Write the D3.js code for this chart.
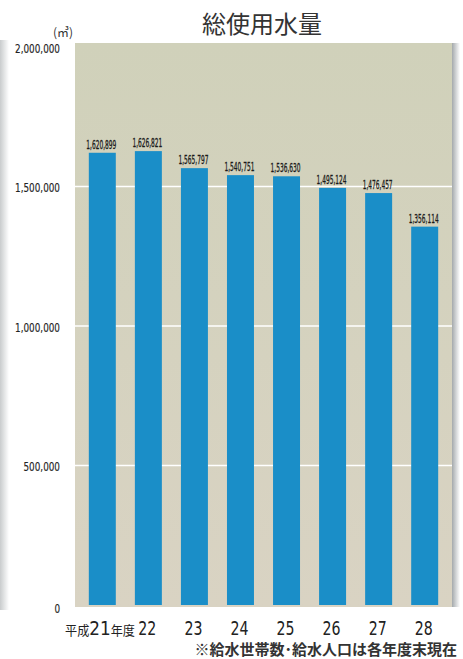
<!DOCTYPE html>
<html><head><meta charset="utf-8">
<script src="https://cdn.jsdelivr.net/npm/d3@7"></script>
<style>html,body{margin:0;padding:0;background:#fff;}svg{display:block;}</style>
</head><body>
<script>
const categories = ["21","22","23","24","25","26","27","28"];
const values = [1620899,1626821,1565797,1540751,1536630,1495124,1476457,1356114];
const valueLabels = ["1,620,899","1,626,821","1,565,797","1,540,751","1,536,630","1,495,124","1,476,457","1,356,114"];
const yTicks = [0,500000,1000000,1500000,2000000];
const gridTicks = [500000,1000000,1500000];
const title = "総使用水量";
const unit = "(㎥)";
const note = "※給水世帯数･給水人口は各年度末現在";

const W=463,H=659;
const svg=d3.select("body").append("svg").attr("width",W).attr("height",H);
const defs=svg.append("defs");
const bg=defs.append("linearGradient").attr("id","bg").attr("x1",0).attr("y1",0).attr("x2",0).attr("y2",1);
bg.append("stop").attr("offset","0%").attr("stop-color","#d0d1ba");
bg.append("stop").attr("offset","100%").attr("stop-color","#d9d3c3");
const sh=defs.append("linearGradient").attr("id","sh").attr("x1",0).attr("y1",0).attr("x2",1).attr("y2",0);
sh.append("stop").attr("offset","0%").attr("stop-color","#a4a9ac");
sh.append("stop").attr("offset","100%").attr("stop-color","#ffffff");
const lsh=defs.append("linearGradient").attr("id","lsh").attr("x1",0).attr("y1",0).attr("x2",1).attr("y2",0);
lsh.append("stop").attr("offset","0%").attr("stop-color","#c9cccd");
lsh.append("stop").attr("offset","100%").attr("stop-color","#ffffff");

const x=d3.scaleBand().domain(categories).range([75,452]).paddingInner(0.414).paddingOuter(0.3);
const y=d3.scaleLinear().domain([0,2000000]).range([605,47]);

svg.append("rect").attr("x",0).attr("y",40).attr("width",9).attr("height",570).attr("fill","url(#lsh)");
svg.append("rect").attr("x",75).attr("y",43).attr("width",377).attr("height",564).attr("fill","url(#bg)");
svg.append("rect").attr("x",452).attr("y",43).attr("width",8).attr("height",564).attr("fill","url(#sh)");

svg.append("g").selectAll("line").data(gridTicks).join("line")
  .attr("x1",75).attr("x2",452).attr("y1",d=>y(d)).attr("y2",d=>y(d))
  .attr("stroke","#ffffff").attr("stroke-width",1.6);

svg.append("g").selectAll("rect").data(values).join("rect")
  .attr("x",(d,i)=>x(categories[i])).attr("width",x.bandwidth())
  .attr("y",d=>y(d)).attr("height",d=>y(0)-y(d)).attr("fill","#1a8ec8");

const narrow="'Liberation Sans Narrow','DejaVu Sans Condensed',sans-serif";
// place text at (px,py) squeezed horizontally to target width
function squeezeTo(sel,px,py,target){
  sel.each(function(d,i){
    const w=this.getComputedTextLength();
    const f=(typeof target==="function"?target(d,i):target)/w;
    d3.select(this).attr("x",0).attr("y",0)
      .attr("transform",`translate(${px(d,i)},${py(d,i)}) scale(${f},1)`);
  });
}

// value labels
const vl=svg.append("g").selectAll("text").data(values).join("text")
  .attr("text-anchor","middle").attr("font-family",narrow).attr("font-size",12.5)
  .attr("fill","#1a1a1a").attr("stroke","#1a1a1a").attr("stroke-width",0.3)
  .text((d,i)=>valueLabels[i]);
squeezeTo(vl,(d,i)=>x(categories[i])+x.bandwidth()/2-1,d=>y(d)-4,30);

// y axis labels
const yl=svg.append("g").selectAll("text").data(yTicks).join("text")
  .attr("text-anchor","end").attr("font-family",narrow).attr("font-size",13).attr("dy","0.35em")
  .attr("fill","#222").attr("stroke","#222").attr("stroke-width",0.15).text(d=>d3.format(",")(d));
let ref=0; yl.each(function(d){ if(d===2000000) ref=this.getComputedTextLength(); });
const fy=45/ref;
yl.each(function(d){
  d3.select(this).attr("x",0).attr("y",0)
    .attr("transform",`translate(60,${y(d)+(d===0?3:1)}) scale(${fy},1)`);
});

svg.append("text").attr("x",73).attr("y",37).attr("text-anchor","end")
  .attr("font-family","'Noto Sans CJK JP',sans-serif").attr("font-size",12).attr("fill","#333").text(unit);

svg.append("text").attr("x",262).attr("y",33).attr("text-anchor","middle")
  .attr("font-family","'Noto Sans CJK JP',sans-serif").attr("font-size",24).attr("fill","#333").text(title);

// x labels
const xl=svg.append("g");
categories.forEach((c,i)=>{
  const cx=x(c)+x.bandwidth()/2;
  const t=xl.append("text").attr("fill","#222");
  if(i===0){
    t.attr("text-anchor","start");
    t.append("tspan").attr("font-family","'Noto Sans CJK JP',sans-serif").attr("font-size",13).text("平成");
    t.append("tspan").attr("font-family",narrow).attr("font-size",20).text(c);
    t.append("tspan").attr("font-family","'Noto Sans CJK JP',sans-serif").attr("font-size",13).text("年度");
    const w=t.node().getComputedTextLength();
    t.attr("transform",`translate(65,635) scale(${70/w},1)`);
  } else {
    t.attr("text-anchor","middle").attr("font-family",narrow).attr("font-size",20).text(c);
    const w=t.node().getComputedTextLength();
    t.attr("transform",`translate(${cx-1},635) scale(${18/w},1)`);
  }
});

svg.append("text").attr("x",457).attr("y",655).attr("text-anchor","end")
  .attr("font-family","'Noto Sans CJK JP',sans-serif").attr("font-size",15).attr("font-weight","bold")
  .attr("fill","#333").text(note);
</script>
</body></html>
